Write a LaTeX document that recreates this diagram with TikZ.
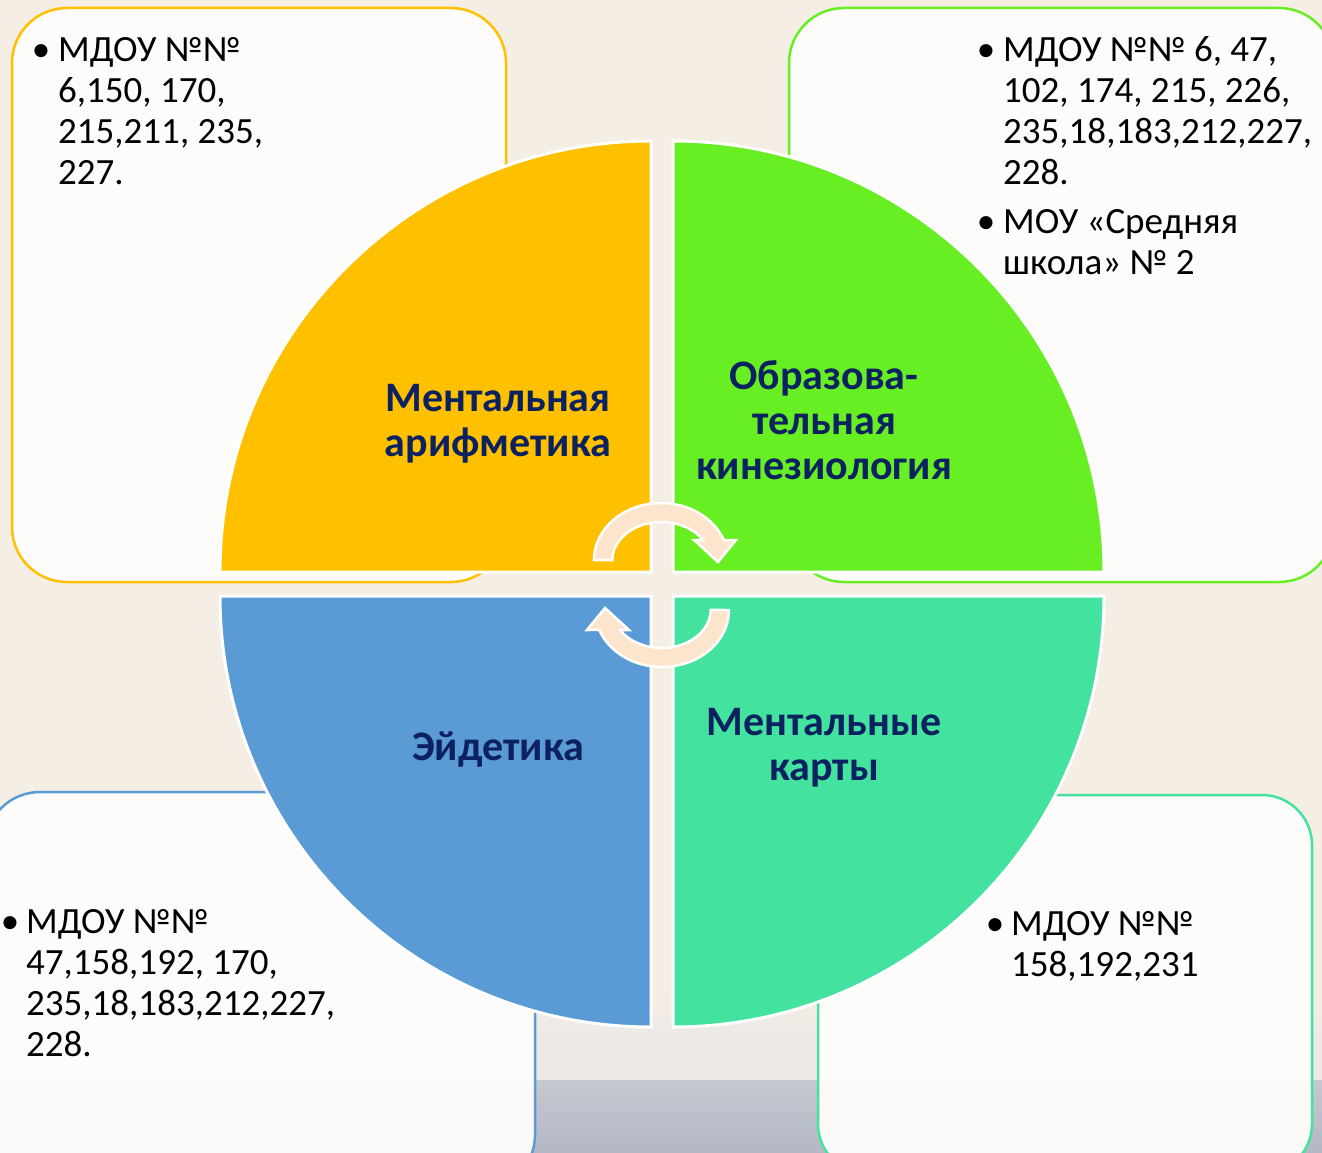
\documentclass[tikz,border=0pt]{standalone}
\usepackage{fontspec}
\setmainfont{Carlito}
\definecolor{bgcream}{HTML}{F5EEE4}
\definecolor{bgmid}{HTML}{ECE9E6}
\definecolor{bggrayA}{HTML}{C6C8D0}
\definecolor{bggrayB}{HTML}{B4B8C6}
\definecolor{boxfill}{HTML}{FFFEFC}
\definecolor{qyellow}{HTML}{FFC000}
\definecolor{qgreen}{HTML}{68EF23}
\definecolor{qblue}{HTML}{5B9BD5}
\definecolor{qteal}{HTML}{43E29E}
\definecolor{navy}{HTML}{0C2260}
\definecolor{arrowfill}{HTML}{FDE5CD}
\newcommand{\blist}[1]{\parbox[t]{520pt}{\raggedright #1}}
\newcommand{\clist}[1]{\parbox[t]{400pt}{\centering #1}}
\begin{document}
\begin{tikzpicture}[x=1pt,y=-1pt,
  quad/.style={draw=white, line width=3pt},
  infobox/.style={line width=2.5pt, fill=boxfill, fill opacity=0.93, rounded corners=55pt},
  arrowshape/.style={fill=arrowfill, draw=white, line width=2.5pt, line join=miter},
  lbl/.style={font=\fontsize{42}{45}\selectfont\bfseries, text=navy, inner sep=0pt, anchor=base},
  txt/.style={font=\fontsize{37}{41}\selectfont, inner sep=0pt, anchor=base west},
  bul/.style={font=\fontsize{37}{41}\selectfont, inner sep=0pt, anchor=base}
]
\useasboundingbox (0,0) rectangle (1322,1153);
% background
\fill[bgcream] (0,0) rectangle (1322,1153);
\shade[top color=bgcream, bottom color=bgmid] (0,990) rectangle (1322,1040);
\fill[bgmid] (0,1040) rectangle (1322,1080);
\shade[top color=bggrayA, bottom color=bggrayB] (0,1080) rectangle (1322,1153);

% information boxes
\path[infobox, draw=qyellow] (12,8) rectangle (506,582);
\path[infobox, draw=qgreen] (789,8) rectangle (1334,582);
\path[infobox, draw=qblue] (-15,792) rectangle (535,1190);
\path[infobox, draw=qteal, rounded corners=50pt] (818,795) rectangle (1312,1174);

% quadrants
\path[quad, fill=qyellow] (651,572) -- (220,572) arc[start angle=180, end angle=270, radius=431] -- cycle;
\path[quad, fill=qgreen] (673,572) -- (673,141) arc[start angle=270, end angle=360, radius=431] -- cycle;
\path[quad, fill=qblue] (651,596) -- (220,596) arc[start angle=180, end angle=90, radius=431] -- cycle;
\path[quad, fill=qteal] (673,596) -- (1104,596) arc[start angle=0, end angle=90, radius=431] -- cycle;

% circular arrows
\path[arrowshape] (594,560) arc[start angle=180, end angle=339.5, x radius=67, y radius=57]
  -- (736,540) -- (718,562) -- (694,540) -- (703,540)
  arc[start angle=328.2, end angle=180, x radius=49, y radius=38] -- cycle;
\begin{scope}[rotate around={180:(661.5,585)}]
\path[arrowshape] (594,560) arc[start angle=180, end angle=339.5, x radius=67, y radius=57]
  -- (736,540) -- (718,562) -- (694,540) -- (703,540)
  arc[start angle=328.2, end angle=180, x radius=49, y radius=38] -- cycle;
\end{scope}

% quadrant labels
\node[lbl] (lma) at (498,411) {\clist{Ментальная\\арифметика}};
\node[lbl] (lok) at (824,389) {\clist{Образова-\\тельная\\кинезиология}};
\node[lbl] (led) at (498,760) {\clist{Эйдетика}};
\node[lbl] (lmk) at (824,735) {\clist{Ментальные\\карты}};

% bullet lists
\node[bul] (b1) at (41,61.5) {•};
\node[txt] (t1) at (58,61.5) {\blist{МДОУ №№\\6,150, 170,\\215,211, 235,\\227.}};

\node[bul] (b2) at (986,61.5) {•};
\node[txt] (t2) at (1003,61.5) {\blist{МДОУ №№ 6, 47,\\102, 174, 215, 226,\\235,18,183,212,227,\\228.}};
\node[bul] (b3) at (986,233.5) {•};
\node[txt] (t3) at (1003,233.5) {\blist{МОУ «Средняя\\школа» № 2}};

\node[bul] (b4) at (10,933.5) {•};
\node[txt] (t4) at (26,933.5) {\blist{МДОУ №№\\47,158,192, 170,\\235,18,183,212,227,\\228.}};

\node[bul] (b5) at (995,935.5) {•};
\node[txt] (t5) at (1011,935.5) {\blist{МДОУ №№\\158,192,231}};
\end{tikzpicture}
\end{document}
